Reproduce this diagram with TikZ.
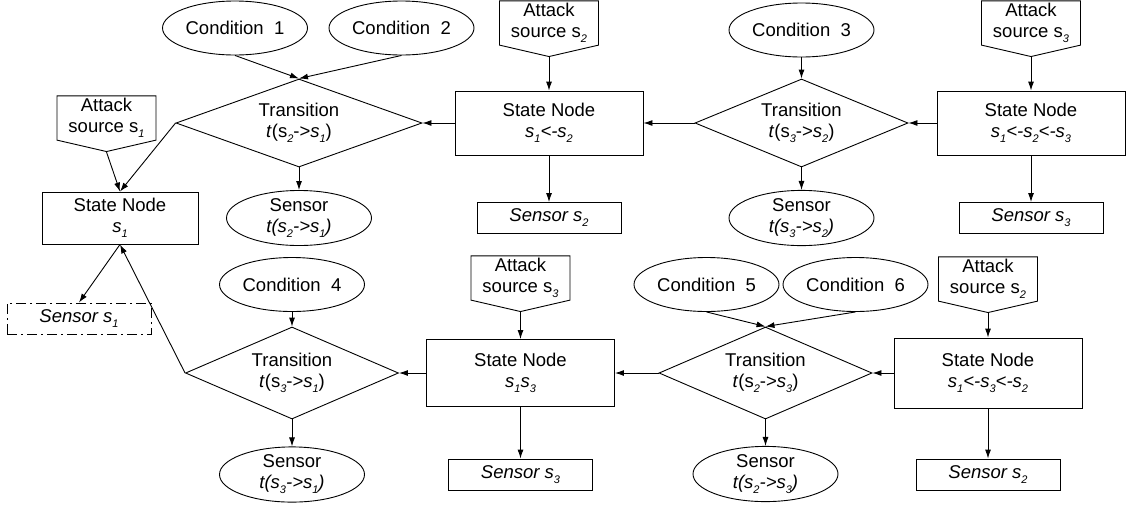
\documentclass[tikz,border=0pt]{standalone}
\usepackage{fontspec}
\setmainfont{Liberation Sans}
\usepackage{tikz}
\usetikzlibrary{shapes, arrows, arrows.meta, positioning}
\newcommand{\lowsub}[1]{\raisebox{-5pt}{\fontsize{11}{11}\selectfont\textit{#1}}}
\tikzstyle{condition} = [ellipse, draw=black, minimum width=145pt, minimum height=54pt, inner sep=0pt, align=center]
\tikzstyle{transition} = [diamond, draw=black, aspect=2.4, minimum width=213pt, minimum height=88pt, inner sep=0pt, align=center]
\tikzstyle{statenode} = [rectangle, draw=black, minimum width=188pt, minimum height=64pt, inner sep=0pt, align=center]
\tikzstyle{sensor} = [rectangle, draw=black, minimum width=144pt, minimum height=31pt, inner sep=0pt]
\tikzstyle{attack} = [signal, signal to=south, signal pointer angle=154, draw=black, minimum width=99pt, minimum height=53pt, inner sep=0pt, align=center]
\tikzstyle{arrow} = [->, >={Latex[length=9pt,width=6pt]}]

\begin{document}
\begin{tikzpicture}[node distance=95pt, font=\fontsize{18.5}{21}\selectfont, line width=0.9pt]
        \useasboundingbox (0pt,0pt) rectangle (1126pt,-507pt);
        % upper chain
        \node (T1) [transition, aspect=2.8, minimum width=246pt] at (299pt,-123pt) {Transition\\\textit{t}(s\lowsub{2}->\textit{s}\lowsub{1})};
        \node (cond1) [condition, above of=T1, xshift=-64pt] {Condition~~1};
        \node (cond2) [condition, above of=T1, xshift=102.5pt] {Condition~~2};
        \node (sensT1) [condition, below of=T1] {Sensor\\\textit{t(s\lowsub{2}->s\lowsub{1})}};
        \node (S1) [statenode, below of=T1, xshift=-179pt, minimum width=156pt, minimum height=52pt] {State Node\\\textit{s}\lowsub{1}};
        \node (atk1) [attack, above of=S1, anchor=south, xshift=-13.5pt, yshift=-29pt] {Attack\\source s\lowsub{1}};
        \node (S12) [statenode, right of=T1, xshift=155pt] {State Node\\\textit{s\lowsub{1}<-s\lowsub{2}}};
        \node (atk2) [attack, above of=S12, anchor=south, yshift=-29pt] {Attack\\source s\lowsub{2}};
        \node (sens2) [sensor, below of=S12] {\textit{Sensor s\lowsub{2}}};
        \node (T2) [transition, right of=S12, xshift=157.5pt] {Transition\\\textit{t}(s\lowsub{3}->\textit{s}\lowsub{2})};
        \node (cond3) [condition, above of=T2, yshift=-2pt] {Condition~~3};
        \node (sensT2) [condition, below of=T2] {Sensor\\\textit{t(s\lowsub{3}->s\lowsub{2})}};
        \node (S123) [statenode, right of=T2, xshift=134.5pt] {State Node\\\textit{s\lowsub{1}<-s\lowsub{2}<-s\lowsub{3}}};
        \node (atk3) [attack, above of=S123, anchor=south, yshift=-29pt] {Attack\\source s\lowsub{3}};
        \node (sens3) [sensor, below of=S123] {\textit{Sensor s\lowsub{3}}};

        % lower chain
        \node (T3) [transition, below of=sensT1, xshift=-7pt, yshift=-60pt, minimum height=92pt] {Transition\\\textit{t}(s\lowsub{3}->\textit{s}\lowsub{1})};
        \node (cond4) [condition, above of=T3, yshift=-6.5pt] {Condition~~4};
        \node (sensT3) [condition, below of=T3, yshift=-6.5pt] {Sensor\\\textit{t(s\lowsub{3}->s\lowsub{1})}};
        \node (sensS1) [sensor, below of=S1, xshift=-41pt, yshift=-5.5pt, dash pattern=on 10pt off 4pt on 2pt off 4pt] {\textit{Sensor s\lowsub{1}}};
        \node (S13) [statenode, right of=T3, xshift=133.5pt, minimum height=67pt] {State Node\\\textit{s\lowsub{1}s\lowsub{3}}};
        \node (atk3b) [attack, above of=S13, anchor=south, yshift=-34pt] {Attack\\source s\lowsub{3}};
        \node (sens3b) [sensor, below of=S13, yshift=-6.5pt] {\textit{Sensor s\lowsub{3}}};
        \node (T4) [transition, right of=S13, xshift=150pt, minimum height=92pt] {Transition\\\textit{t}(s\lowsub{2}->\textit{s}\lowsub{3})};
        \node (cond5) [condition, above of=T4, xshift=-59pt, yshift=-6.5pt] {Condition~~5};
        \node (cond6) [condition, above of=T4, xshift=90pt, yshift=-6.5pt] {Condition~~6};
        \node (sensT4) [condition, below of=T4, yshift=-6pt] {Sensor\\\textit{t(s\lowsub{2}->s\lowsub{3})}};
        \node (S132) [statenode, right of=T4, xshift=127.5pt, minimum height=70pt] {State Node\\\textit{s\lowsub{1}<-s\lowsub{3}<-s\lowsub{2}}};
        \node (atk2b) [attack, above of=S132, anchor=south, yshift=-35pt] {Attack\\source s\lowsub{2}};
        \node (sens2b) [sensor, below of=S132, yshift=-6.5pt] {\textit{Sensor s\lowsub{2}}};

        \draw [arrow] (cond1.south) -- (T1.north);
        \draw [arrow] (cond2.south) -- (T1.north);
        \draw [arrow] (S12) -- (T1);
        \draw [arrow] (T1.west) -- (S1.north);
        \draw [arrow] (atk1.south) -- (S1.north);
        \draw [arrow] (T1) -- (sensT1);
        \draw [arrow] (atk2.south) -- (S12);
        \draw [arrow] (S12) -- (sens2);
        \draw [arrow] (cond3) -- (T2);
        \draw [arrow] (T2) -- (S12);
        \draw [arrow] (S123) -- (T2);
        \draw [arrow] (T2) -- (sensT2);
        \draw [arrow] (atk3.south) -- (S123);
        \draw [arrow] (S123) -- (sens3);

        \draw [arrow] (S1.south) -- (sensS1.north);
        \draw [arrow] (T3.west) -- (S1.south);
        \draw [arrow] (cond4) -- (T3);
        \draw [arrow] (S13) -- (T3);
        \draw [arrow] (T3) -- (sensT3);
        \draw [arrow] (atk3b.south) -- (S13);
        \draw [arrow] (S13) -- (sens3b);
        \draw [arrow] (T4) -- (S13);
        \draw [arrow] (S132) -- (T4);
        \draw [arrow] (cond5.south) -- (T4.north);
        \draw [arrow] (cond6.south) -- (T4.north);
        \draw [arrow] (T4) -- (sensT4);
        \draw [arrow] (atk2b.south) -- (S132);
        \draw [arrow] (S132) -- (sens2b);
\end{tikzpicture}
\end{document}
